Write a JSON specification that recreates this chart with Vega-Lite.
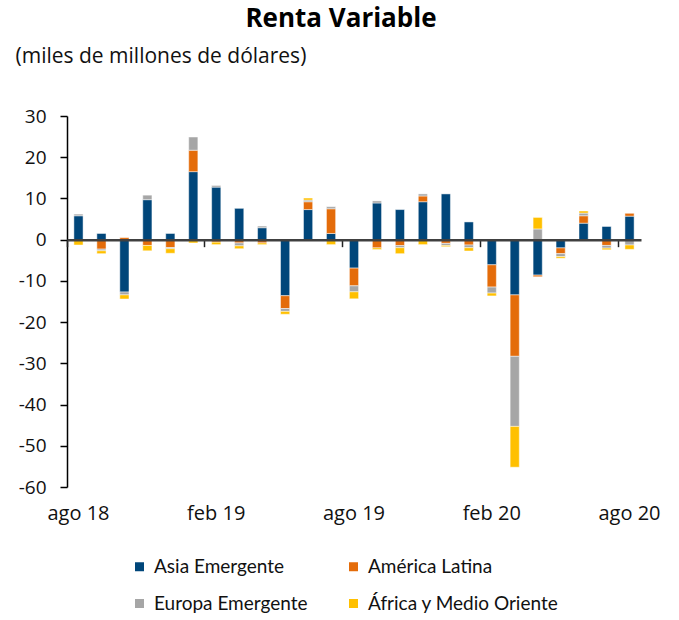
{
  "$schema": "https://vega.github.io/schema/vega-lite/v6.json",
  "width": 574,
  "height": 371,
  "autosize": {"type": "none"},
  "padding": {"left": 67, "top": 116, "right": 38, "bottom": 133},
  "background": "white",
  "config": {"view": {"stroke": null}, "font": "Open Sans"},
  "title": {
    "text": "Renta Variable",
    "fontSize": 26,
    "fontWeight": "bold",
    "font": "Open Sans",
    "color": "#000000",
    "anchor": "middle",
    "frame": "group",
    "dx": -13,
    "dy": 27,
    "baseline": "alphabetic",
    "offset": 19
  },
  "datasets": {
    "series": [
      {"region": "Asia Emergente", "orden": 1},
      {"region": "América Latina", "orden": 2},
      {"region": "Europa Emergente", "orden": 3},
      {"region": "África y Medio Oriente", "orden": 4}
    ]
  },
  "data": {
    "values": [
      {"mes": "ago 18", "Asia Emergente": 5.8, "América Latina": -0.1, "Europa Emergente": 0.4, "África y Medio Oriente": -1.2},
      {"mes": "sep 18", "Asia Emergente": 1.5, "América Latina": -2.3, "Europa Emergente": -0.4, "África y Medio Oriente": -0.7},
      {"mes": "oct 18", "Asia Emergente": -12.7, "América Latina": 0.5, "Europa Emergente": -0.7, "África y Medio Oriente": -1.0},
      {"mes": "nov 18", "Asia Emergente": 9.7, "América Latina": -1.4, "Europa Emergente": 1.1, "África y Medio Oriente": -1.3},
      {"mes": "dic 18", "Asia Emergente": 1.5, "América Latina": -1.9, "Europa Emergente": -0.3, "África y Medio Oriente": -1.1},
      {"mes": "ene 19", "Asia Emergente": 16.5, "América Latina": 5.2, "Europa Emergente": 3.2, "África y Medio Oriente": -0.8},
      {"mes": "feb 19", "Asia Emergente": 12.75, "América Latina": -0.6, "Europa Emergente": 0.4, "África y Medio Oriente": -0.6},
      {"mes": "mar 19", "Asia Emergente": 7.6, "América Latina": -0.8, "Europa Emergente": -0.7, "África y Medio Oriente": -0.7},
      {"mes": "abr 19", "Asia Emergente": 2.9, "América Latina": -0.8, "Europa Emergente": 0.4, "África y Medio Oriente": -0.4},
      {"mes": "may 19", "Asia Emergente": -13.6, "América Latina": -3.1, "Europa Emergente": -0.7, "África y Medio Oriente": -0.7},
      {"mes": "jun 19", "Asia Emergente": 7.3, "América Latina": 1.9, "Europa Emergente": 0.4, "África y Medio Oriente": 0.5},
      {"mes": "jul 19", "Asia Emergente": 1.5, "América Latina": 6.0, "Europa Emergente": 0.5, "África y Medio Oriente": -1.2},
      {"mes": "ago 19", "Asia Emergente": -6.9, "América Latina": -4.3, "Europa Emergente": -1.45, "África y Medio Oriente": -1.7},
      {"mes": "sep 19", "Asia Emergente": 8.9, "América Latina": -2.0, "Europa Emergente": 0.5, "África y Medio Oriente": -0.4},
      {"mes": "oct 19", "Asia Emergente": 7.3, "América Latina": -1.45, "Europa Emergente": -0.5, "África y Medio Oriente": -1.45},
      {"mes": "nov 19", "Asia Emergente": 9.2, "América Latina": 1.4, "Europa Emergente": 0.5, "África y Medio Oriente": -1.2},
      {"mes": "dic 19", "Asia Emergente": 11.1, "América Latina": -0.9, "Europa Emergente": -0.5, "África y Medio Oriente": -0.3},
      {"mes": "ene 20", "Asia Emergente": 4.3, "América Latina": -1.3, "Europa Emergente": -0.65, "África y Medio Oriente": -0.8},
      {"mes": "feb 20", "Asia Emergente": -6.1, "América Latina": -5.4, "Europa Emergente": -1.45, "África y Medio Oriente": -0.7},
      {"mes": "mar 20", "Asia Emergente": -13.4, "América Latina": -14.9, "Europa Emergente": -17.0, "África y Medio Oriente": -9.9},
      {"mes": "abr 20", "Asia Emergente": -8.6, "América Latina": -0.4, "Europa Emergente": 2.6, "África y Medio Oriente": 2.8},
      {"mes": "may 20", "Asia Emergente": -2.0, "América Latina": -1.4, "Europa Emergente": -0.7, "África y Medio Oriente": -0.4},
      {"mes": "jun 20", "Asia Emergente": 4.0, "América Latina": 1.8, "Europa Emergente": 0.65, "África y Medio Oriente": 0.5},
      {"mes": "jul 20", "Asia Emergente": 3.2, "América Latina": -1.4, "Europa Emergente": -0.65, "África y Medio Oriente": -0.4},
      {"mes": "ago 20", "Asia Emergente": 5.7, "América Latina": 0.7, "Europa Emergente": -1.3, "África y Medio Oriente": -1.05}
    ]
  },
  "transform": [
    {"fold": ["Asia Emergente", "América Latina", "Europa Emergente", "África y Medio Oriente"], "as": ["region", "valor"]},
    {"lookup": "region", "from": {"data": {"name": "series"}, "key": "region", "fields": ["orden"]}}
  ],
  "mark": {"type": "bar", "width": {"band": 0.4}, "stroke": "white", "strokeWidth": 0.8, "strokeOpacity": 0.6},
  "encoding": {
    "x": {
      "field": "mes",
      "type": "nominal",
      "sort": null,
      "scale": {"paddingInner": 0, "paddingOuter": 0},
      "axis": {
        "values": ["ago 18", "feb 19", "ago 19", "feb 20", "ago 20"],
        "bandPosition": 0,
        "offset": -247.33,
        "domainColor": "#404040",
        "domainWidth": 2.5,
        "tickColor": "#222222",
        "tickSize": 7,
        "tickWidth": 1.5,
        "labelFontSize": 20,
        "labelFont": "Open Sans",
        "labelColor": "#111111",
        "labelBaseline": "alphabetic",
        "labelPadding": 273,
        "labelAngle": 0,
        "title": null,
        "zindex": 1
      }
    },
    "y": {
      "field": "valor",
      "type": "quantitative",
      "stack": "zero",
      "scale": {"domain": [-60, 30], "nice": false},
      "axis": {
        "values": [-60, -50, -40, -30, -20, -10, 0, 10, 20, 30],
        "labelExpr": "'' + datum.value",
        "grid": false,
        "domainColor": "#000000",
        "domainWidth": 1.5,
        "tickColor": "#000000",
        "tickSize": 7,
        "tickWidth": 1.5,
        "labelFontSize": 19,
        "labelFont": "Open Sans",
        "labelColor": "#111111",
        "labelPadding": 14,
        "title": "(miles de millones de dólares)",
        "titleAngle": 0,
        "titleAlign": "left",
        "titleBaseline": "alphabetic",
        "titleX": -52,
        "titleY": -54,
        "titleFontSize": 21,
        "titleFontWeight": "normal",
        "titleFont": "Open Sans",
        "titleColor": "#111111"
      }
    },
    "order": {"field": "orden", "type": "quantitative", "sort": "ascending"},
    "color": {
      "field": "region",
      "type": "nominal",
      "sort": ["Asia Emergente", "América Latina", "Europa Emergente", "África y Medio Oriente"],
      "scale": {
        "domain": ["Asia Emergente", "América Latina", "Europa Emergente", "África y Medio Oriente"],
        "range": ["#00467A", "#E46C0A", "#A6A6A6", "#FFC000"]
      },
      "legend": {
        "orient": "none",
        "legendX": 63,
        "legendY": 441,
        "direction": "horizontal",
        "columns": 2,
        "title": null,
        "symbolType": "square",
        "symbolSize": 81,
        "symbolStrokeWidth": 0,
        "labelFontSize": 19,
        "labelFont": "Lato",
        "labelColor": "#111111",
        "labelOffset": 5,
        "labelLimit": 300,
        "columnPadding": 36,
        "rowPadding": 17,
        "padding": 0
      }
    }
  }
}
